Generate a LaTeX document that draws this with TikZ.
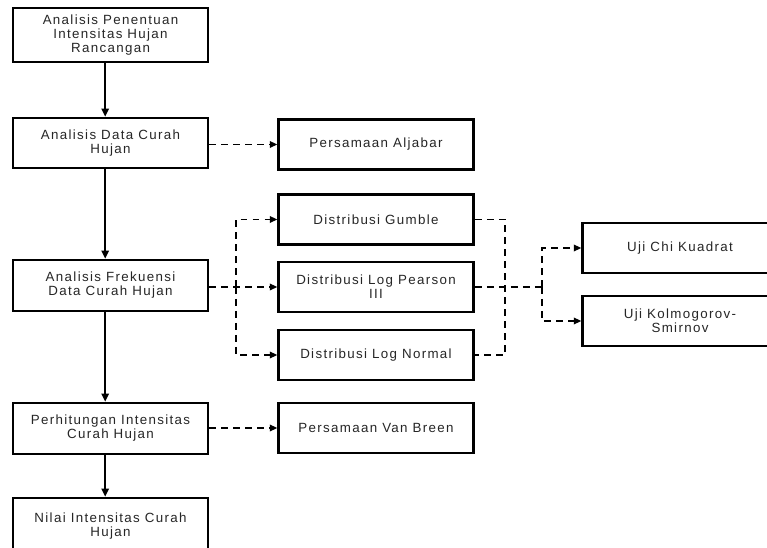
\documentclass[tikz,border=0pt]{standalone}
\usepackage{fontspec}
\setmainfont{Liberation Sans}[LetterSpace=10]
\usetikzlibrary{arrows.meta,calc}
\begin{document}
\begin{tikzpicture}[x=0.75pt,y=-0.75pt,
  box/.style={draw=black,line width=2pt,fill=white,minimum width=195*0.75pt,minimum height=50*0.75pt,
    align=center,inner sep=0pt,font=\fontsize{10}{10.5}\selectfont,text=black!85},
  solidarrow/.style={line width=1.3pt,-{Triangle[length=6pt,width=5.5pt]}},
  dashline/.style={line width=1.1pt,dash pattern=on 5pt off 4pt},
  dasharrow/.style={dashline,-{Triangle[length=5.5pt,width=5pt]}}]
\useasboundingbox (0,0) rectangle (767,548);
\clip (0,0) rectangle (767,548);
% left column
\node[box,minimum height=54*0.75pt] (a1) at (110.5,35) {Analisis Penentuan\\Intensitas Hujan\\Rancangan};
\node[box] (a2) at (110.5,143) {Analisis Data Curah\\Hujan};
\node[box,minimum height=51*0.75pt] (a3) at (110.5,285.5) {Analisis Frekuensi\\Data Curah Hujan};
\node[box,minimum height=51*0.75pt] (a4) at (110.5,428.5) {Perhitungan Intensitas\\Curah Hujan};
\node[box,minimum height=56*0.75pt] (a5) at (110.5,526) {Nilai Intensitas Curah\\Hujan};
% middle column
\node[box] (m1) at (376,144.5) {Persamaan Aljabar};
\node[box] (m2) at (376,219.5) {Distribusi Gumble};
\node[box] (m3) at (376,287) {Distribusi Log Pearson\\III};
\node[box] (m4) at (376,355) {Distribusi Log Normal};
\node[box] (m5) at (376,428) {Persamaan Van Breen};
% right column
\node[box] (r1) at (680,248) {Uji Chi Kuadrat};
\node[box] (r2) at (680,321) {Uji Kolmogorov-\\Smirnov};
% solid arrows
\draw[solidarrow] ([xshift=-4pt]a1.south) -- ([xshift=-4pt]a2.north);
\draw[solidarrow] ([xshift=-4pt]a2.south) -- ([xshift=-4pt]a3.north);
\draw[solidarrow] ([xshift=-4pt]a3.south) -- ([xshift=-4pt]a4.north);
\draw[solidarrow] ([xshift=-4pt]a4.south) -- ([xshift=-4pt]a5.north);
% dashed connectors
\draw[dasharrow] (a2.east |- m1.west) -- (m1.west);
\draw[dasharrow] (a3.east |- m3.west) -- (m3.west);
\draw[dasharrow] (a4.east |- m5.west) -- (m5.west);
\coordinate (bl) at (236,287);
\draw[dasharrow] (bl) |- (m2.west);
\draw[dasharrow] (bl) |- (m4.west);
\coordinate (br) at (505,287);
\draw[dashline] (m2.east) -| (br) |- (m4.east);
\coordinate (bu) at (542,287);
\draw[dashline] (m3.east) -- (bu);
\draw[dasharrow] (bu) |- (r1.west);
\draw[dasharrow] (bu) |- (r2.west);
\end{tikzpicture}
\end{document}
